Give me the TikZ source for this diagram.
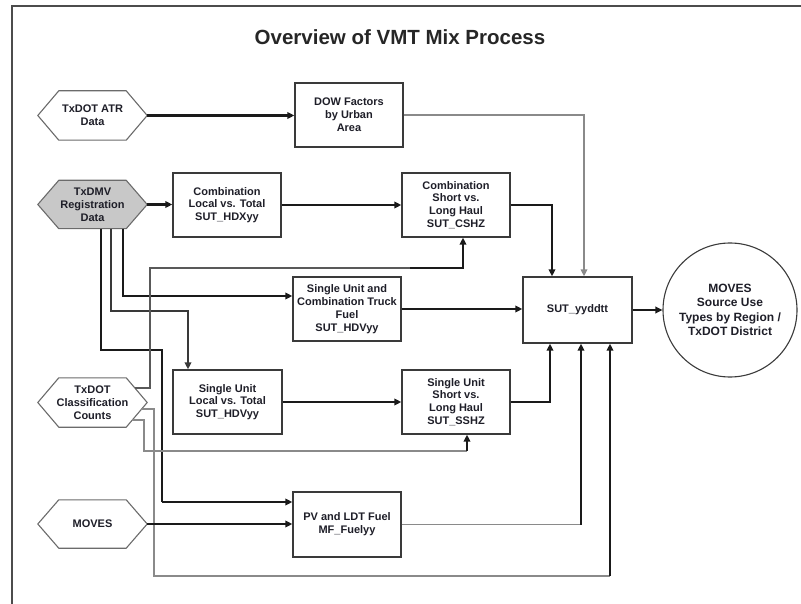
\documentclass[tikz,border=0pt]{standalone}
\usepackage{fontspec}
\setmainfont{Liberation Sans}
\usetikzlibrary{arrows.meta,backgrounds,calc}
\definecolor{txt}{HTML}{1E1E28}
\definecolor{bord}{HTML}{3A3A3A}
\definecolor{gln}{HTML}{8A8A8A}
\definecolor{blk}{HTML}{1A1A1A}
\definecolor{hexfill}{HTML}{C8C8C8}
\newcommand\drawhex[2]{\draw[hexline,#2] (#1.west) -- ([xshift=21pt]#1.north west) -- ([xshift=-21pt]#1.north east) -- (#1.east) -- ([xshift=-21pt]#1.south east) -- ([xshift=21pt]#1.south west) -- cycle;}
\tikzset{
  lbl/.style={font=\bfseries\fontsize{11}{12.8}\selectfont, text=txt, align=center},
  boxnode/.style={lbl, draw=bord, line width=1.3pt, minimum width=108pt, minimum height=64pt, inner sep=1pt},
  hexnode/.style={lbl, minimum width=109pt, minimum height=49pt, inner sep=0pt},
  hexline/.style={draw=bord!75, line width=1.1pt},
  thk/.style={draw=blk, line width=2.5pt},
  thn/.style={draw=gln, line width=1.6pt},
  thnb/.style={draw=blk, line width=1.3pt},
  tip/.style={-{Triangle[length=7pt,width=6.5pt]}},
  frameline/.style={draw=gray!60!black, line width=1.8pt},
}
\begin{document}
\begin{tikzpicture}[x=1pt,y=-1pt]
\useasboundingbox (0,0) rectangle (801,604);
\draw[frameline] (12,604) -- (12,6) -- (801,6);
\node[font=\bfseries\fontsize{20.5}{24}\selectfont, text=black!85] (title) at (400,37) {Overview of VMT Mix Process};

% input hexagons
\node[hexnode] (atr) at (92.5,115.5) {TxDOT ATR\\Data};
\node[hexnode, minimum height=48pt] (txdmv) at (92.5,204.5) {TxDMV\\Registration\\Data};
\node[hexnode] (cc) at (92.5,402.5) {TxDOT\\Classification\\Counts};
\node[hexnode, minimum height=48pt] (moves) at (92.5,524) {MOVES};

% process boxes
\node[boxnode] (dow) at (349,115) {DOW Factors\\by Urban\\Area};
\node[boxnode] (hdx) at (227,205) {Combination\\Local vs. Total\\SUT\_HDXyy};
\node[boxnode] (cshz) at (456,205) {Combination\\Short vs.\\Long Haul\\SUT\_CSHZ};
\node[boxnode] (fuel) at (347,309) {Single Unit and\\Combination Truck\\Fuel\\SUT\_HDVyy};
\node[boxnode, minimum width=109pt, minimum height=66pt] (sut) at (577.5,310) {SUT\_yyddtt};
\node[boxnode, minimum width=109pt] (hdv) at (227.5,402) {Single Unit\\Local vs. Total\\SUT\_HDVyy};
\node[boxnode] (sshz) at (456,402) {Single Unit\\Short vs.\\Long Haul\\SUT\_SSHZ};
\node[boxnode, minimum height=65pt] (pv) at (347,524.5) {PV and LDT Fuel\\MF\_Fuelyy};
\node[circle, draw=bord, line width=1.1pt, minimum size=134pt, inner sep=0pt, align=center, text=txt, font=\bfseries\fontsize{12}{14.5}\selectfont] (circ) at (730,310) {MOVES\\Source Use\\Types by Region /\\TxDOT District};

\begin{scope}[on background layer]
\drawhex{atr}{fill=white}
\drawhex{txdmv}{fill=hexfill}
\drawhex{cc}{fill=white}
\drawhex{moves}{fill=white}
\end{scope}

% connectors
\draw[thk,tip] (atr.east) -- (atr.east -| dow.west);
\draw[thn,tip] (dow.east) -| ([xshift=6.5pt]sut.north);
\draw[thk,tip] (cshz.east) -| ([xshift=-25.5pt]sut.north);
\draw[thk,tip] (txdmv.east) -- (txdmv.east -| hdx.west);
\draw[thk,tip] (hdx.east) -- (cshz.west);
\draw[thk,tip] ([xshift=30.5pt]txdmv.south) |- ([yshift=13pt]fuel.west);

\coordinate (g1) at (188,311);
\draw[draw=gray!45!black, line width=1.8pt, tip] ([xshift=18.5pt]txdmv.south) |- (g1) -- ([xshift=-39.5pt]hdv.north);

\coordinate (h1) at (162,350);
\coordinate (h2) at (162,502);
\draw[thnb] ([xshift=8.5pt]txdmv.south) |- (h1) -- (h2);
\draw[thk,tip] (h2) -- (h2 -| pv.west);

\coordinate (i1) at (150,268);
\coordinate (i2) at (410,268);
\draw[thn, draw=gray!70!black, line width=1.4pt] ([xshift=42.1pt,yshift=14.5pt]cc.center) -| (i1) -- (i2);
\draw[thk,tip] (i2) -| ([xshift=7pt]cshz.south);

\coordinate (j1) at (154,576);
\coordinate (j2) at (610,576);
\draw[thn] ([xshift=48.9pt,yshift=-6.5pt]cc.center) -| (j1) -- (j2);
\draw[thk,tip] (j2) -- (j2 |- sut.south);

\coordinate (k1) at (144,451);
\coordinate (k2) at (467,451);
\draw[thn] ([xshift=39.5pt,yshift=-17.5pt]cc.center) -| (k1) -- (k2);
\draw[thk,tip] (k2) -- (k2 |- sshz.south);

\draw[thk,tip] (hdv.east) -- (sshz.west);
\draw[thk,tip] (sshz.east) -| ([xshift=-27.5pt]sut.south);
\draw[thk,tip] (fuel.east) -- (fuel.east -| sut.west);
\draw[thk,tip] (moves.east) -- (moves.east -| pv.west);

\coordinate (p1) at (581,524.5);
\draw[thn] (pv.east) -- (p1);
\draw[thk,tip] (p1) -- (p1 |- sut.south);

\draw[thk,tip] (sut.east) -- (circ.west);
\end{tikzpicture}
\end{document}
